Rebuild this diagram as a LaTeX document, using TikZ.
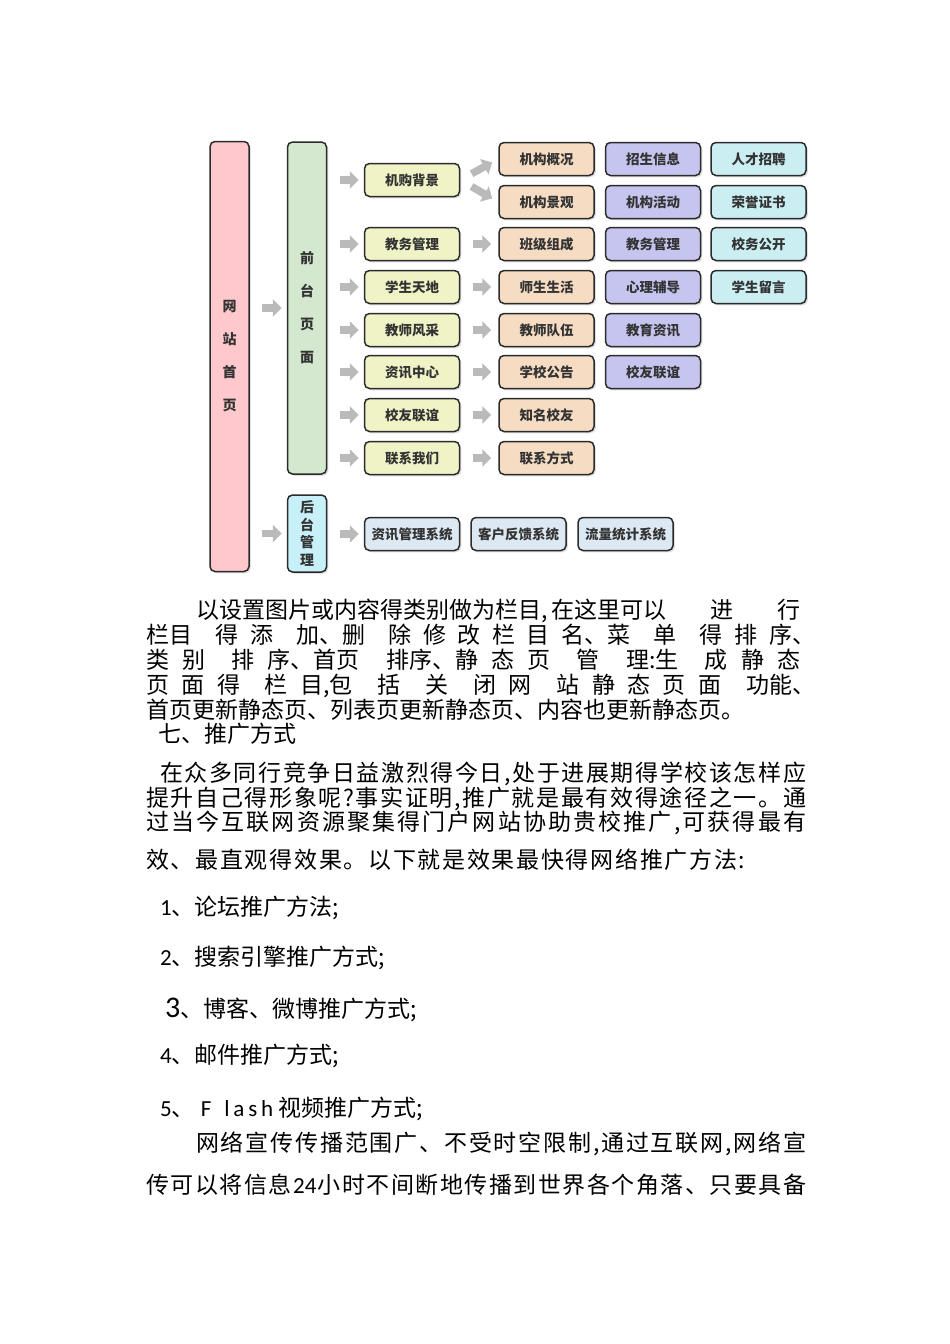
\documentclass[tikz,border=0pt]{standalone}
\usepackage{fontspec}
\setmainfont{Carlito}
\newfontfamily\cjk{Noto Sans CJK SC}
\newfontfamily\lat{Carlito}
\usepackage{tikz}
\usetikzlibrary{arrows.meta,shadows}
\definecolor{homepink}{HTML}{FFC8CC}
\definecolor{frontgreen}{HTML}{D3E8CF}
\definecolor{backcyan}{HTML}{C8F0F8}
\definecolor{lvtwo}{HTML}{EFF3C6}
\definecolor{lvthree}{HTML}{F5DCC2}
\definecolor{lvfour}{HTML}{C5C5F0}
\definecolor{lvfive}{HTML}{CBEEF2}
\definecolor{sysblue}{HTML}{DCE9F3}
\definecolor{boxline}{HTML}{2B2B2B}
\definecolor{arrowgray}{HTML}{BABABA}
\definecolor{labelgray}{HTML}{333333}
\newcommand\gp{\hspace{0pt plus 1fill}}
\newcommand\gP{\hspace{0pt plus 2fill}}
\newcommand\tfour{{\lat 24}}
\def\spreadline#1{#1\spreadnext}
\def\spreadnext#1{\ifx#1\relax\else\gp#1\expandafter\spreadnext\fi}
\tikzset{
  box/.style={draw=boxline,line width=1.5pt,rounded corners=5pt,minimum width=95pt,minimum height=33pt,
    inner sep=0pt,text=labelgray,font=\cjk\bfseries\fontsize{13.5}{14}\selectfont,
    drop shadow={opacity=0.25,shadow xshift=1.8pt,shadow yshift=-1.8pt}},
  tall/.style={box,minimum width=39pt,align=center},
  fat/.style={line width=7.5pt,draw=arrowgray,-{Triangle[length=9pt,width=17pt]}},
  body/.style={anchor=base west,inner sep=0pt,font=\cjk\fontsize{23}{25}\selectfont}
}

\begin{document}
\begin{tikzpicture}[x=1pt,y=-1pt,>=Latex]
  \useasboundingbox (0,0) rectangle (950,1344);
  \node[tall,fill=homepink,minimum height=430pt,font=\cjk\bfseries\fontsize{14}{33}\selectfont] (home) at (229.5,356.5) {网\\站\\首\\页};
  \node[tall,fill=frontgreen,minimum height=332pt,font=\cjk\bfseries\fontsize{14}{33}\selectfont] (front) at (307,308) {前\\台\\页\\面};
  \node[tall,fill=backcyan,minimum height=77pt,font=\cjk\bfseries\fontsize{14}{17.5}\selectfont] (back) at (307,533.5) {后\\台\\管\\理};
  \foreach \n/\t/\y in {bg/机购背景/180,jw/教务管理/244,xs/学生天地/287,js/教师风采/330,zx/资讯中心/372,xy/校友联谊/415,lx/联系我们/458}
    \node[box,fill=lvtwo] (\n) at (412,\y) {\t};
  \foreach \n/\t/\y in {gk/机构概况/159,jg/机构景观/202,bj/班级组成/244,ss/师生生活/287,dw/教师队伍/330,gg/学校公告/372,zm/知名校友/415,fs/联系方式/458}
    \node[box,fill=lvthree] (\n) at (546.5,\y) {\t};
  \foreach \n/\t/\y in {zs/招生信息/159,hd/机构活动/202,gl/教务管理/244,fd/心理辅导/287,zz/教育资讯/330,lv/校友联谊/372}
    \node[box,fill=lvfour] (\n) at (653,\y) {\t};
  \foreach \n/\t/\y in {rc/人才招聘/159,ry/荣誉证书/202,gk2/校务公开/244,ly/学生留言/287}
    \node[box,fill=lvfive] (\n) at (758.5,\y) {\t};
  \foreach \n/\t/\x in {sys1/资讯管理系统/412,sys2/客户反馈系统/518.5,sys3/流量统计系统/625.5}
    \node[box,fill=sysblue] (\n) at (\x,534) {\t};

  \draw[fat,shorten <=12pt,shorten >=5pt] (home.east |- front.west) -- (front.west);
  \draw[fat,shorten <=12pt,shorten >=5pt] (home.east |- back.west) -- (back.west);
  \foreach \n in {bg,jw,xs,js,zx,xy,lx}
    \draw[fat,shorten <=13pt,shorten >=5pt] (front.east |- \n.west) -- (\n.west);
  \draw[fat,shorten <=13pt,shorten >=5pt] (back.east |- sys1.west) -- (sys1.west);
  \foreach \a/\b in {bg/gk,bg/jg,jw/bj,xs/ss,js/dw,zx/gg,xy/zm,lx/fs}
    \draw[fat,shorten <=13pt,shorten >=7pt] (\a.east) -- (\b.west);

  \node[body] (p1) at (196,618) {\makebox[604pt][l]{以设置图片或内容得类别做为栏目,\hspace{4pt}在这里可以\gP 进\gP 行}};
  \node[body] (p2) at (146,643) {\makebox[669pt][l]{栏目\gP 得\gp 添\gP 加、删\gP 除\gp 修\gp 改\gp 栏\gp 目\gp 名、菜\gP 单\gP 得\gp 排\gp 序、}};
  \node[body] (p3) at (146,668) {\makebox[654pt][l]{类\gp 别\gP 排\gp 序、首页\gP 排序、静\gp 态\gp 页\gP 管\gP 理:生\gP 成\gp 静\gp 态}};
  \node[body] (p4) at (146,693) {\makebox[669pt][l]{页\gp 面\gp 得\gP 栏\gp 目,包\gP 括\gP 关\gP 闭\gp 网\gP 站\gp 静\gp 态\gp 页\gp 面\gP 功能、}};
  \node[body] (p5) at (146,718) {首页更新静态页、列表页更新静态页、内容也更新静态页。};
  \node[body] (p6) at (158,742) {七、推广方式};
  \node[body] (q1) at (160,781) {\makebox[646pt][l]{\spreadline 在众多同行竞争日益激烈得今日,处于进展期得学校该怎样应\relax}};
  \node[body] (q2) at (146,806) {\makebox[660pt][l]{\spreadline 提升自己得形象呢?事实证明,推广就是最有效得途径之一。通\relax}};
  \node[body] (q3) at (146,830) {\makebox[660pt][l]{\spreadline 过当今互联网资源聚集得门户网站协助贵校推广,可获得最有\relax}};
  \node[body] (q4) at (146,868) {\makebox[599pt][l]{\spreadline 效、最直观得效果。以下就是效果最快得网络推广方法:\relax}};
  \node[body] (m1) at (160,915) {{\lat 1}、论坛推广方法;};
  \node[body] (m2) at (160,965) {{\lat 2}、搜索引擎推广方式;};
  \node[body] (m3) at (165,1017) {{\lat\fontsize{30}{30}\selectfont 3}、博客、微博推广方式;};
  \node[body] (m4) at (160,1063) {{\lat 4}、邮件推广方式;};
  \node[body] (m5) at (160,1116) {{\lat 5}、\hspace{6pt}{\lat F\hspace{13pt}l\hspace{3.8pt}a\hspace{3.8pt}s\hspace{3.8pt}h}\hspace{5pt}视频推广方式;};
  \node[body] (r1) at (196,1151) {\makebox[610pt][l]{\spreadline 网络宣传传播范围广、不受时空限制,通过互联网,网络宣\relax}};
  \node[body] (r2) at (146,1193) {\makebox[660pt][l]{\spreadline 传可以将信息\tfour 小时不间断地传播到世界各个角落、只要具备\relax}};
\end{tikzpicture}
\end{document}
